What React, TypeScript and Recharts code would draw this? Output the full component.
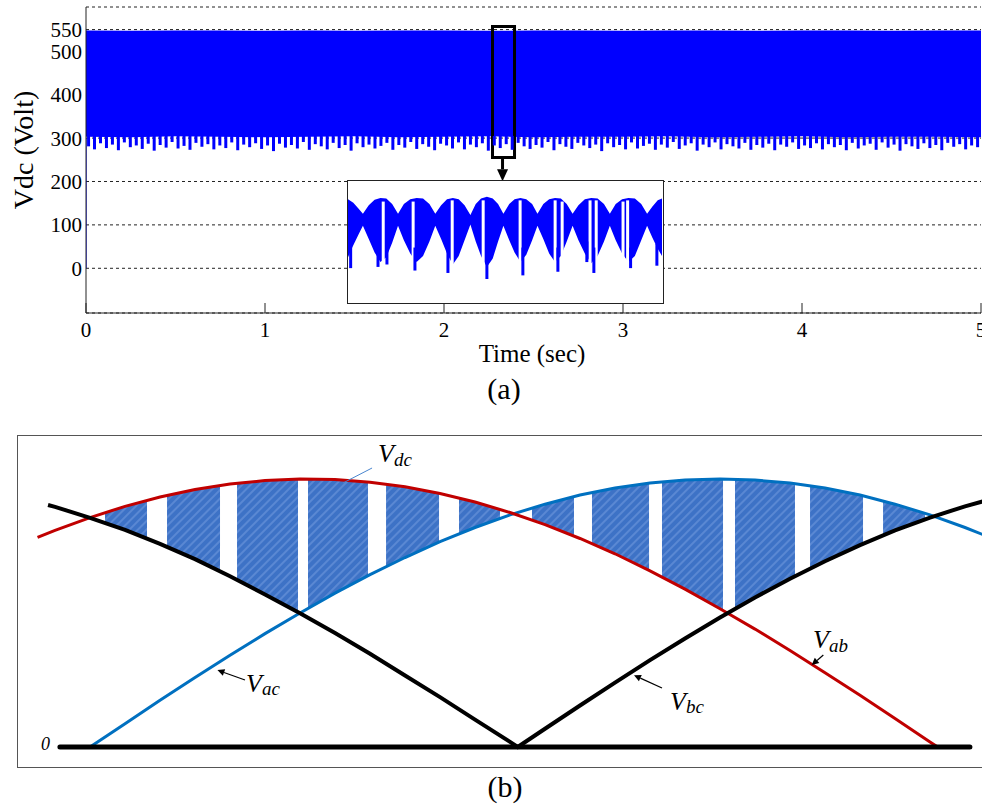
import React from "react";
import {
  ComposedChart,
  Area,
  Bar,
  Line,
  XAxis,
  YAxis,
  CartesianGrid,
  ReferenceLine,
  ReferenceArea,
} from "recharts";

const SERIF = '"Liberation Serif", "Times New Roman", serif';

// ---------- (a) Vdc over 0..5 s ----------
const timeTicks = [0, 1, 2, 3, 4, 5];
const voltTicks = [0, 100, 200, 300, 400, 500, 550];
const voltDomain = [-103, 602];

const bandTime = [0, 0.25, 0.5, 0.75, 1, 1.25, 1.5, 1.75, 2, 2.25, 2.5, 2.75, 3, 3.25, 3.5, 3.75, 4, 4.25, 4.5, 4.75, 5];
const bandLow = [303, 302, 304, 303, 302, 303, 304, 302, 303, 304, 302, 303, 303, 304, 302, 303, 304, 302, 303, 303, 302];
const bandHigh = [548, 547, 548, 548, 547, 548, 547, 548, 548, 547, 548, 548, 547, 548, 548, 547, 548, 548, 547, 548, 548];

// start-up edge at t = 0: rises from 0 V into the band
const startupRange: [number, number] = [0, 300];

// ripple teeth hanging under the band, one every 1/30 s: lowest value of each
const toothStart = 0.017;
const toothStep = 5 / 150;
const toothLow = [
  281, 274, 288, 277, 285, 272, 290, 279, 283, 275, 287, 271, 284, 278, 291, 276, 282, 273, 289, 280, 286, 274, 283, 277, 290,
  272, 285, 279, 288, 275, 283, 270, 287, 278, 284, 276, 291, 273, 286, 281, 274, 289, 277, 284, 271, 288, 279, 285, 276, 282,
  289, 273, 284, 278, 291, 275, 286, 280, 272, 287, 283, 276, 290, 274, 285, 279, 288, 271, 283, 277, 286, 273, 289, 281, 275,
  284, 278, 291, 272, 286, 280, 275, 289, 283, 277, 285, 270, 288, 279, 284, 274, 290, 276, 282, 287, 273, 285, 278, 291, 275,
  283, 288, 271, 285, 279, 290, 274, 286, 281, 276, 289, 273, 284, 278, 287, 272, 285, 280, 290, 275, 283, 277, 288, 274, 286,
  279, 284, 272, 289, 276, 283, 287, 273, 290, 278, 285, 271, 286, 281, 275, 288, 277, 284, 272, 289, 280, 286, 274, 283, 279,
];

const bandRows = bandTime.map((t, i) => ({
  t,
  band: [bandLow[i], bandHigh[i]] as [number, number],
  startup: i === 0 ? startupRange : undefined,
}));
const toothRows = toothLow.map((v, i) => ({ t: toothStart + i * toothStep, tooth: [v, 305] as [number, number] }));

// ---------- inset (zoomed ripple, ms) ----------
const insetTime = [
  0, 0.5, 1.0, 1.4,
  1.95, 2.5, 3.05, 3.6, 4.15, 4.7,
  5.25, 5.85, 6.45, 7.05, 7.65, 8.2,
  8.75, 9.3, 9.85, 10.4, 10.95, 11.5,
  12.0, 12.5, 13.05, 13.6, 14.1, 14.6,
  15.15, 15.65, 16.2, 16.75, 17.3, 17.8,
  18.35, 18.9, 19.45, 20.0, 20.55, 21.1,
  21.65, 22.25, 22.85, 23.45, 24.05, 24.6,
  25.15, 25.75, 26.35, 26.95, 27.55, 28.1,
  28.6, 29.1, 29.5,
];
const insetHigh = [
  85, 82, 77, 73,
  80, 84.5, 86, 85.5, 81, 73,
  81, 85, 86, 85.5, 81, 73,
  80, 85, 86, 85, 80, 72,
  81, 85.5, 87, 85.5, 81, 73,
  81, 85, 86, 85, 81, 73,
  81, 85, 86, 85.5, 81, 73,
  80, 85, 86, 85.5, 81, 73,
  81, 85, 86, 85.5, 81, 73,
  79, 84, 85.5,
];
const insetLow = [
  37, 47, 56, 63,
  52, 41, 33, 37, 49, 63,
  51, 40, 33, 38, 50, 63,
  52, 40, 31, 38, 51, 64,
  50, 38, 29, 36, 50, 63,
  51, 41, 33, 39, 51, 63,
  52, 40, 33, 38, 50, 63,
  51, 40, 32, 38, 50, 63,
  51, 40, 33, 38, 51, 63,
  53, 44, 38,
];
// [time, from, to]
const insetNotches: [number, number, number][] = [
  [3.29, 30, 83], [6.1, 30, 83], [9.77, 30, 84], [12.68, 30, 84], [16.15, 30, 84], [19.44, 30, 84],
  [20.1, 34, 83], [22.72, 30, 84], [23.3, 32, 84], [25.82, 32, 83], [26.25, 30, 84],
];
const insetSpikes: [number, number, number][] = [
  [0.25, 28, 45], [2.82, 29, 45], [3.66, 31, 45], [6.29, 26, 45], [9.39, 24, 45], [13.05, 19, 40],
  [16.43, 22, 45], [19.72, 25, 45], [22.44, 33, 50], [23.1, 24, 45], [26.55, 28, 45], [29.02, 30, 48],
];

const insetBandRows = insetTime.map((t, i) => ({ t, band: [insetLow[i], insetHigh[i]] as [number, number] }));
const insetNotchRows = insetNotches.map(([t, a, b]) => ({ t, mark: [a, b] as [number, number] }));
const insetSpikeRows = insetSpikes.map(([t, a, b]) => ({ t, mark: [a, b] as [number, number] }));

// ---------- (b) line voltages vs electrical angle (deg), per unit ----------
const vabAngle = [-7.5, -5, 0, 5, 10, 15, 20, 25, 30, 35, 40, 45, 50, 55, 60, 65, 70, 75, 80, 85, 90, 95, 100, 105, 110, 115, 120, 121.1];
const vabValue = [0.782, 0.808, 0.856, 0.898, 0.933, 0.961, 0.981, 0.994, 1.0, 0.998, 0.988, 0.971, 0.946, 0.914, 0.875, 0.83, 0.778, 0.721, 0.657, 0.589, 0.516, 0.44, 0.36, 0.277, 0.193, 0.106, 0.019, 0];

const vacAngle = [0, 5, 10, 15, 20, 25, 30, 35, 40, 45, 50, 55, 60, 65, 70, 75, 80, 85, 90, 95, 100, 105, 110, 115, 120, 125, 127.6];
const vacValue = [0, 0.087, 0.174, 0.259, 0.342, 0.423, 0.5, 0.574, 0.643, 0.707, 0.766, 0.819, 0.866, 0.906, 0.94, 0.966, 0.985, 0.996, 1.0, 0.996, 0.985, 0.966, 0.94, 0.906, 0.866, 0.819, 0.792];

const vbcAngle = [-6, -5, 0, 5, 10, 15, 20, 25, 30, 35, 40, 45, 50, 55, 60, 61.1, 65, 70, 75, 80, 85, 90, 95, 100, 105, 110, 115, 120, 125, 127.6];
const vbcValue = [0.903, 0.896, 0.855, 0.81, 0.758, 0.701, 0.637, 0.569, 0.499, 0.425, 0.348, 0.267, 0.186, 0.102, 0.019, 0, 0.068, 0.155, 0.24, 0.324, 0.405, 0.483, 0.558, 0.628, 0.693, 0.753, 0.808, 0.856, 0.898, 0.917];

const zeroAngle = [-4.3, 125.7];
const zeroValue = [0, 0];

// PWM pulses of Vdc between the top and middle line voltage
const pulseStart = [2.14, 11.0, 21.0, 31.14, 42.29, 52.71, 63.14, 71.71, 81.71, 92.14, 102.86, 113.29];
const pulseEnd = [8.14, 18.57, 29.71, 39.71, 49.86, 58.57, 69.14, 79.86, 90.43, 100.71, 110.43, 119.29];
const pulseLowStart = [0.837, 0.747, 0.623, 0.517, 0.673, 0.795, 0.848, 0.759, 0.635, 0.516, 0.666, 0.79];
const pulseHighStart = [0.875, 0.939, 0.985, 1.0, 0.981, 0.93, 0.892, 0.949, 0.99, 0.999, 0.975, 0.918];
const pulseLowEnd = [0.777, 0.655, 0.503, 0.639, 0.765, 0.853, 0.788, 0.659, 0.51, 0.638, 0.758, 0.85];
const pulseHighEnd = [0.921, 0.976, 1.0, 0.989, 0.947, 0.887, 0.934, 0.984, 1.0, 0.983, 0.937, 0.872];

const toRows = (angles: number[], values: number[]) => angles.map((theta, i) => ({ theta, v: values[i] }));
const vabRows = toRows(vabAngle, vabValue);
const vacRows = toRows(vacAngle, vacValue);
const vbcRows = toRows(vbcAngle, vbcValue);
const zeroRows = toRows(zeroAngle, zeroValue);
const pulseRows = pulseStart.map((s, i) => [
  { theta: s, band: [pulseLowStart[i], pulseHighStart[i]] },
  { theta: pulseEnd[i], band: [pulseLowEnd[i], pulseHighEnd[i]] },
]);

const arrowShape = (len: number, half: number) => (p: any) => {
  const { x1, y1, x2, y2, stroke, strokeWidth } = p;
  const dx = x2 - x1;
  const dy = y2 - y1;
  const d = Math.hypot(dx, dy) || 1;
  const ux = dx / d;
  const uy = dy / d;
  const bx = x2 - ux * len;
  const by = y2 - uy * len;
  const pts = `${x2},${y2} ${bx - uy * half},${by + ux * half} ${bx + uy * half},${by - ux * half}`;
  return (
    <g>
      <line x1={x1} y1={y1} x2={bx} y2={by} stroke={stroke} strokeWidth={strokeWidth} />
      <polygon points={pts} fill={stroke} />
    </g>
  );
};

const tickFont = { fill: "#000", fontSize: 21, fontFamily: SERIF };
const layer = { position: "absolute" as const, left: 0, top: 0 };

function TopPanel() {
  return (
    <div style={layer}>
      <div style={layer}>
        <ComposedChart width={982} height={351} data={bandRows} margin={{ top: 7, right: 1, bottom: 0, left: 0 }}>
          <CartesianGrid xAxisId="b" yAxisId="l" vertical={false} stroke="#222" strokeDasharray="3 3" />
          <XAxis xAxisId="b" dataKey="t" type="number" domain={[0, 5]} ticks={timeTicks} interval={0} allowDataOverflow
            height={38} tickSize={-10} tickMargin={19} stroke="#222" tick={tickFont} />
          <XAxis xAxisId="top" orientation="top" dataKey="t" type="number" domain={[0, 5]} ticks={timeTicks}
            interval={0} allowDataOverflow height={0} tickSize={-10} tickFormatter={() => ""} stroke="#222" />
          <YAxis yAxisId="l" type="number" domain={voltDomain} ticks={voltTicks} interval={0} allowDataOverflow
            width={86} tickLine={false} tickSize={0} tickMargin={4} stroke="#222" tick={tickFont} />
          <YAxis yAxisId="r" orientation="right" type="number" domain={voltDomain} allowDataOverflow width={0}
            tick={false} stroke="#222" />
          <Area xAxisId="b" yAxisId="l" dataKey="band" type="linear" stroke="none" fill="#0000ff" fillOpacity={1}
            isAnimationActive={false} />
          <Bar xAxisId="b" yAxisId="l" dataKey="startup" fill="#0000ff" barSize={2} isAnimationActive={false} />
        </ComposedChart>
      </div>
      <div style={layer}>
        <ComposedChart width={982} height={351} data={toothRows} margin={{ top: 7, right: 1, bottom: 38, left: 86 }}>
          <XAxis dataKey="t" type="number" domain={[0, 5]} allowDataOverflow hide />
          <YAxis type="number" domain={voltDomain} allowDataOverflow hide />
          <Bar dataKey="tooth" fill="#0000ff" barSize={3} isAnimationActive={false} />
          <ReferenceArea x1={2.271} x2={2.394} y1={255} y2={557} fill="none" stroke="#000" strokeWidth={3} />
          <ReferenceLine segment={[{ x: 2.327, y: 253 }, { x: 2.327, y: 200.5 }]} stroke="#000" strokeWidth={3}
            shape={arrowShape(12, 5.5)} />
        </ComposedChart>
      </div>
      <div style={{ position: "absolute", left: 347, top: 180, width: 317, height: 124, boxSizing: "border-box",
        border: "1.5px solid #222", background: "#fff" }}>
        <div style={layer}>
          <ComposedChart width={314} height={121} data={insetBandRows} margin={{ top: 0, right: 0, bottom: 0, left: 0 }}>
            <XAxis dataKey="t" type="number" domain={[0, 29.5]} allowDataOverflow hide />
            <YAxis type="number" domain={[0, 100]} allowDataOverflow hide />
            <Area dataKey="band" type="linear" stroke="none" fill="#0000ff" fillOpacity={1} isAnimationActive={false} />
          </ComposedChart>
        </div>
        <div style={layer}>
          <ComposedChart width={314} height={121} data={insetNotchRows} margin={{ top: 0, right: 0, bottom: 0, left: 0 }}>
            <XAxis dataKey="t" type="number" domain={[0, 29.5]} allowDataOverflow hide />
            <YAxis type="number" domain={[0, 100]} allowDataOverflow hide />
            <Bar dataKey="mark" fill="#ffffff" barSize={3} isAnimationActive={false} />
          </ComposedChart>
        </div>
        <div style={layer}>
          <ComposedChart width={314} height={121} data={insetSpikeRows} margin={{ top: 0, right: 0, bottom: 0, left: 0 }}>
            <XAxis dataKey="t" type="number" domain={[0, 29.5]} allowDataOverflow hide />
            <YAxis type="number" domain={[0, 100]} allowDataOverflow hide />
            <Bar dataKey="mark" fill="#0000ff" barSize={3} isAnimationActive={false} />
          </ComposedChart>
        </div>
      </div>
    </div>
  );
}

function BottomPanel() {
  return (
    <div style={{ position: "absolute", left: 17, top: 435, width: 967, height: 333, boxSizing: "border-box",
      border: "1px solid #555" }}>
      <ComposedChart width={965} height={331} margin={{ top: 0, right: 0, bottom: 0, left: 0 }}>
        <XAxis dataKey="theta" type="number" domain={[-10.29, 127.57]} allowDataOverflow hide />
        <YAxis type="number" domain={[-0.0746, 1.1604]} allowDataOverflow hide />
        {pulseRows.map((rows, i) => (
          <Area key={i} data={rows} dataKey="band" type="linear" stroke="none" fill="url(#hatch)" fillOpacity={1}
            isAnimationActive={false} />
        ))}
        <Line data={vacRows} dataKey="v" type="linear" stroke="#0070c0" strokeWidth={3} dot={false}
          isAnimationActive={false} />
        <Line data={vabRows} dataKey="v" type="linear" stroke="#c00000" strokeWidth={3} dot={false}
          isAnimationActive={false} />
        <Line data={vbcRows} dataKey="v" type="linear" stroke="#000" strokeWidth={4} dot={false}
          isAnimationActive={false} />
        <Line data={zeroRows} dataKey="v" type="linear" stroke="#000" strokeWidth={5} strokeLinecap="round"
          dot={false} isAnimationActive={false} />
        <ReferenceLine segment={[{ x: 40.29, y: 1.041 }, { x: 36.14, y: 0.985 }]} stroke="#4a86cf" strokeWidth={1} />
        <ReferenceLine segment={[{ x: 22.14, y: 0.25 }, { x: 18.2, y: 0.287 }]} stroke="#000" strokeWidth={1.2}
          shape={arrowShape(7, 3.5)} />
        <ReferenceLine segment={[{ x: 81.71, y: 0.22 }, { x: 77.71, y: 0.268 }]} stroke="#000" strokeWidth={1.2}
          shape={arrowShape(7, 3.5)} />
        <ReferenceLine segment={[{ x: 104.76, y: 0.343 }, { x: 103.1, y: 0.306 }]} stroke="#000" strokeWidth={1.2}
          shape={arrowShape(7, 3.5)} />
      </ComposedChart>
    </div>
  );
}

function Labels() {
  const vStyle = { fontStyle: "italic" as const, fontSize: 26 };
  return (
    <svg width={982} height={805} style={{ position: "absolute", left: 0, top: 0, pointerEvents: "none" }}
      fontFamily={SERIF} fill="#000">
      <text x={23} y={150} fontSize={28} textAnchor="middle" dominantBaseline="central" transform="rotate(-90 23 150)">
        Vdc (Volt)
      </text>
      <text x={532} y={362} fontSize={25} textAnchor="middle">Time (sec)</text>
      <text x={504} y={399} fontSize={30} textAnchor="middle">(a)</text>
      <text x={505} y={797} fontSize={30} textAnchor="middle">(b)</text>
      <text x={378} y={462} {...vStyle}>V<tspan fontSize={19} dy={3.5}>dc</tspan></text>
      <text x={246} y={692} {...vStyle}>V<tspan fontSize={19} dy={3}>ac</tspan></text>
      <text x={670} y={710} {...vStyle}>V<tspan fontSize={19} dy={3}>bc</tspan></text>
      <text x={813} y={648} {...vStyle}>V<tspan fontSize={19} dy={4}>ab</tspan></text>
      <text x={41} y={750} fontSize={18} fontStyle="italic">0</text>
    </svg>
  );
}

export default function App() {
  return (
    <div style={{ position: "absolute", left: 0, top: 0, width: 982, height: 805, background: "#fff",
      overflow: "hidden", fontFamily: SERIF }}>
      <svg width={0} height={0} style={{ position: "absolute" }}>
        <defs>
          <pattern id="hatch" width={6} height={6} patternUnits="userSpaceOnUse" patternTransform="rotate(45)">
            <rect width={6} height={6} fill="#3d72c6" />
            <rect width={2} height={6} fill="#5a88d3" />
          </pattern>
        </defs>
      </svg>
      <TopPanel />
      <BottomPanel />
      <Labels />
    </div>
  );
}
